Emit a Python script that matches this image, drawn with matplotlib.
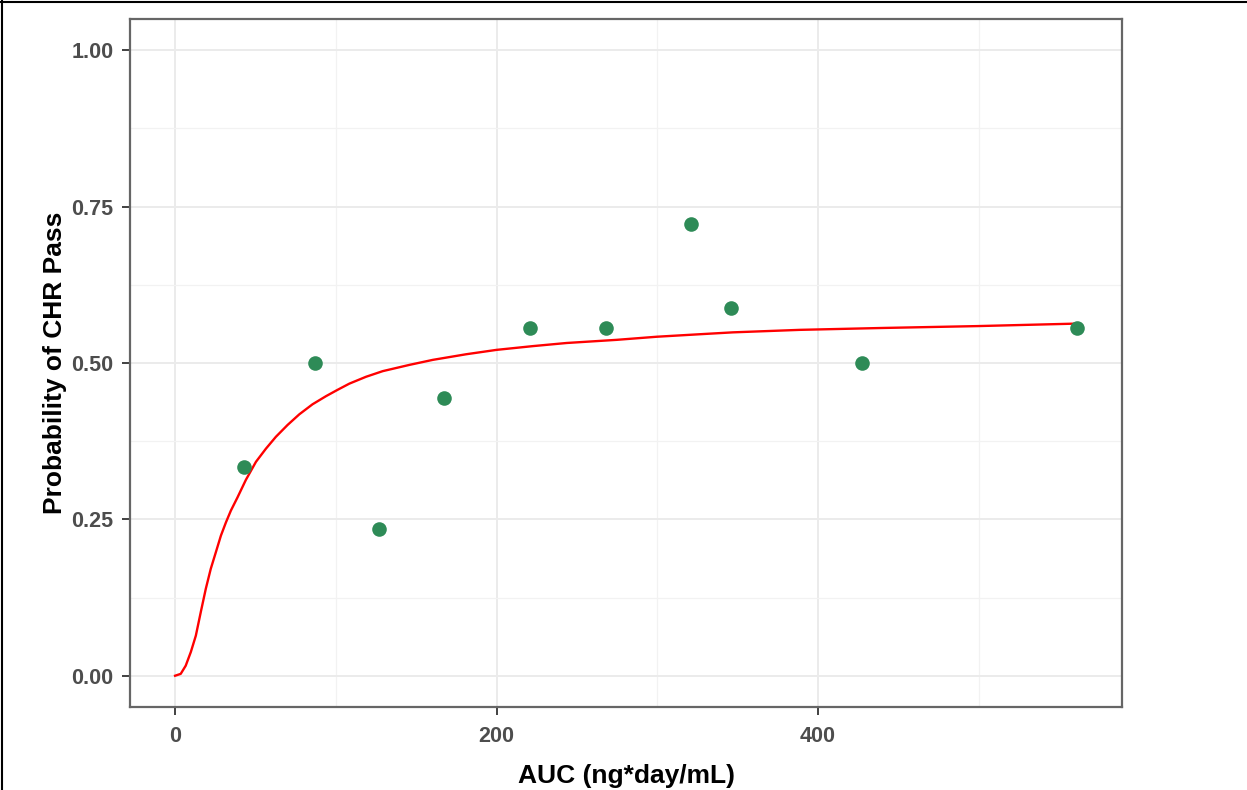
import matplotlib
matplotlib.use("Agg")
import matplotlib.pyplot as plt
from matplotlib.lines import Line2D
from matplotlib.ticker import MultipleLocator

plt.rcParams['font.family'] = ['Liberation Sans', 'DejaVu Sans']

# observed data
auc_obs = [43, 87, 127, 167, 221, 268, 321, 346, 427, 561]
prob_obs = [0.333, 0.500, 0.235, 0.444, 0.556, 0.556, 0.722, 0.588, 0.500, 0.556]

# fitted curve
auc_fit = [0, 3.5, 6.6, 9.8, 12.9, 16.0, 19.1, 22.2, 25.3, 28.5, 31.6, 34.7,
           38.8, 44.0, 50.3, 56.5, 62.7, 70.0, 77.3, 85.5, 93.9, 101,
           108.4, 118.8, 129.2, 145.8, 160.3, 181.1, 200, 222.6, 243.6,
           274.6, 299.7, 326.5, 347, 388.8, 440, 499, 561]
prob_fit = [0, 0.003, 0.016, 0.038, 0.064, 0.102, 0.139, 0.171, 0.197, 0.224,
            0.245, 0.264, 0.285, 0.313, 0.342, 0.363, 0.382, 0.401, 0.418,
            0.434, 0.447, 0.457, 0.467, 0.478, 0.487, 0.497, 0.505, 0.514,
            0.521, 0.527, 0.532, 0.537, 0.542, 0.546, 0.549, 0.553, 0.556,
            0.559, 0.563]

x_ticks = [0, 200, 400]
y_ticks = [0.00, 0.25, 0.50, 0.75, 1.00]
y_tick_labels = ["0.00", "0.25", "0.50", "0.75", "1.00"]

fig = plt.figure(figsize=(12.47, 7.90), dpi=100)
ax = fig.add_axes([130/1247, 1-707/790, (1122-130)/1247, (707-19)/790])

ax.set_xlim(-28.05, 589.05)
ax.set_ylim(-0.05, 1.05)

ax.xaxis.set_minor_locator(MultipleLocator(100))
ax.yaxis.set_minor_locator(MultipleLocator(0.125))
ax.set_xticks(x_ticks)
ax.set_yticks(y_ticks)
ax.set_yticklabels(y_tick_labels)
ax.grid(True, which='major', color='#EBEBEB', linewidth=1.4)
ax.grid(True, which='minor', color='#F2F2F2', linewidth=0.9)
ax.set_axisbelow(True)
ax.tick_params(which='minor', length=0)
ax.tick_params(which='major', length=6, width=1.3, color='#333333',
               labelsize=15.5, labelcolor='#4D4D4D')
ax.tick_params(axis='y', pad=6)
ax.tick_params(axis='x', pad=8)
for lab in ax.get_xticklabels() + ax.get_yticklabels():
    lab.set_fontweight('bold')
for s in ax.spines.values():
    s.set_color('#666666')
    s.set_linewidth(1.6)

ax.plot(auc_fit, prob_fit, color='#FF0000', linewidth=1.7, zorder=3,
        solid_joinstyle='round')
ax.plot(auc_obs, prob_obs, 'o', color='#2E8B57', markersize=10.5, zorder=4,
        markeredgewidth=0)

ax.set_xlabel("AUC (ng*day/mL)", fontsize=19, fontweight='bold', labelpad=12)
ax.set_ylabel("Probability of CHR Pass", fontsize=19, fontweight='bold', labelpad=3)

# outer frame lines (top and left)
fig.add_artist(Line2D([0, 1], [1-1.5/790, 1-1.5/790], color='black', linewidth=1.5,
                      transform=fig.transFigure))
fig.add_artist(Line2D([1.5/1247, 1.5/1247], [0, 1], color='black', linewidth=1.5,
                      transform=fig.transFigure))

fig.savefig("out.png", dpi=100)
